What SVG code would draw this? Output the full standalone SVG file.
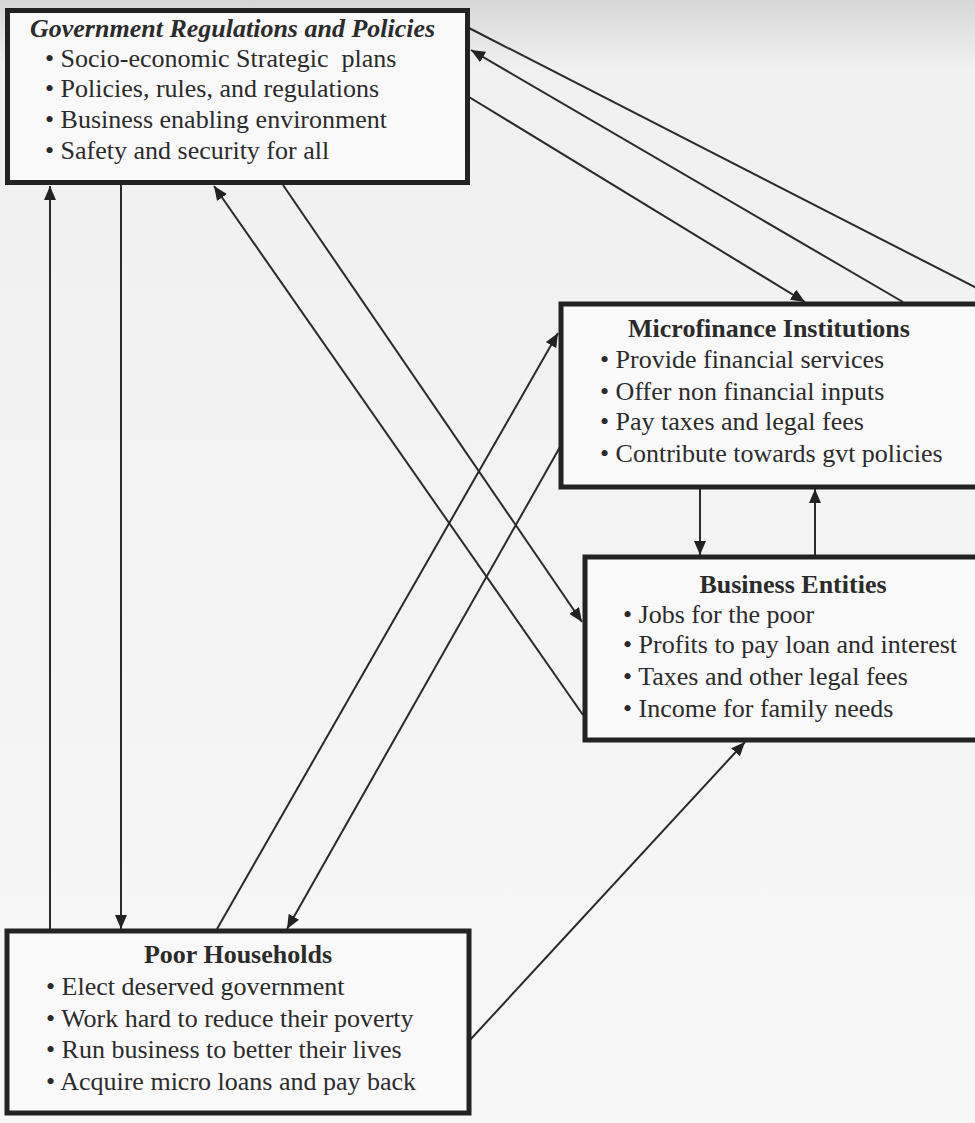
<svg xmlns="http://www.w3.org/2000/svg" width="975" height="1123" viewBox="0 0 975 1123">
  <defs>
    <linearGradient id="bg" x1="0" y1="0" x2="0" y2="1">
      <stop offset="0" stop-color="#d6d6d6"/>
      <stop offset="0.06" stop-color="#f0f0f0"/>
      <stop offset="1" stop-color="#f7f7f7"/>
    </linearGradient>
    <marker id="arr" markerUnits="userSpaceOnUse" markerWidth="15" markerHeight="13" refX="14" refY="6" orient="auto">
      <path d="M0,0 L14,6 L0,12 z" fill="#222"/>
    </marker>
    <style>
      .box { fill: #f9f9f9; stroke: #222; stroke-width: 5; }
      .t { font-family: "Liberation Serif", "Times New Roman", serif; font-size: 26px; fill: #2b2b2b; }
      .title { font-weight: bold; text-anchor: middle; }
      .gt { font-weight: bold; font-style: italic; }
      .c { stroke: #2a2a2a; stroke-width: 2; fill: none; }
      .ca { stroke: #2a2a2a; stroke-width: 2; fill: none; marker-end: url(#arr); }
    </style>
  </defs>
  <rect x="0" y="0" width="975" height="1123" fill="url(#bg)"/>

  <g id="connectors">
    <line class="ca" x1="50" y1="929" x2="50" y2="186"/>
    <line class="ca" x1="121" y1="185" x2="121" y2="929"/>
    <line class="ca" x1="283" y1="185" x2="582" y2="622"/>
    <line class="ca" x1="583" y1="715" x2="214" y2="186"/>
    <line class="ca" x1="217" y1="929" x2="558" y2="333"/>
    <line class="ca" x1="560" y1="447" x2="287" y2="929"/>
    <line class="ca" x1="470" y1="1040" x2="745" y2="742"/>
    <line class="ca" x1="700" y1="489" x2="700" y2="555"/>
    <line class="ca" x1="815" y1="555" x2="815" y2="489"/>
    <line class="c" x1="469" y1="28" x2="1000" y2="300"/>
    <line class="ca" x1="903" y1="302" x2="471" y2="50"/>
    <line class="ca" x1="469" y1="97" x2="805" y2="302"/>
  </g>

  <g id="gov">
    <rect class="box" x="7.5" y="10.5" width="460" height="172"/>
    <text class="t gt" x="30" y="37">Government Regulations and Policies</text>
    <text class="t" x="45" y="67" xml:space="preserve">• Socio-economic Strategic  plans</text>
    <text class="t" x="45" y="97">• Policies, rules, and regulations</text>
    <text class="t" x="45" y="128">• Business enabling environment</text>
    <text class="t" x="45" y="159">• Safety and security for all</text>
  </g>

  <g id="mfi">
    <rect class="box" x="561" y="304" width="500" height="183"/>
    <text class="t title" x="769" y="337">Microfinance Institutions</text>
    <text class="t" x="600" y="368">• Provide financial services</text>
    <text class="t" x="600" y="400">• Offer non financial inputs</text>
    <text class="t" x="600" y="430">• Pay taxes and legal fees</text>
    <text class="t" x="600" y="462">• Contribute towards gvt policies</text>
  </g>

  <g id="business">
    <rect class="box" x="585" y="557" width="500" height="183"/>
    <text class="t title" x="793" y="593">Business Entities</text>
    <text class="t" x="623" y="623">• Jobs for the poor</text>
    <text class="t" x="623" y="653">• Profits to pay loan and interest</text>
    <text class="t" x="623" y="685">• Taxes and other legal fees</text>
    <text class="t" x="623" y="717">• Income for family needs</text>
  </g>

  <g id="households">
    <rect class="box" x="7" y="931" width="462" height="182"/>
    <text class="t title" x="238" y="963">Poor Households</text>
    <text class="t" x="46" y="995">• Elect deserved government</text>
    <text class="t" x="46" y="1027">• Work hard to reduce their poverty</text>
    <text class="t" x="46" y="1058">• Run business to better their lives</text>
    <text class="t" x="46" y="1090">• Acquire micro loans and pay back</text>
  </g>
</svg>
